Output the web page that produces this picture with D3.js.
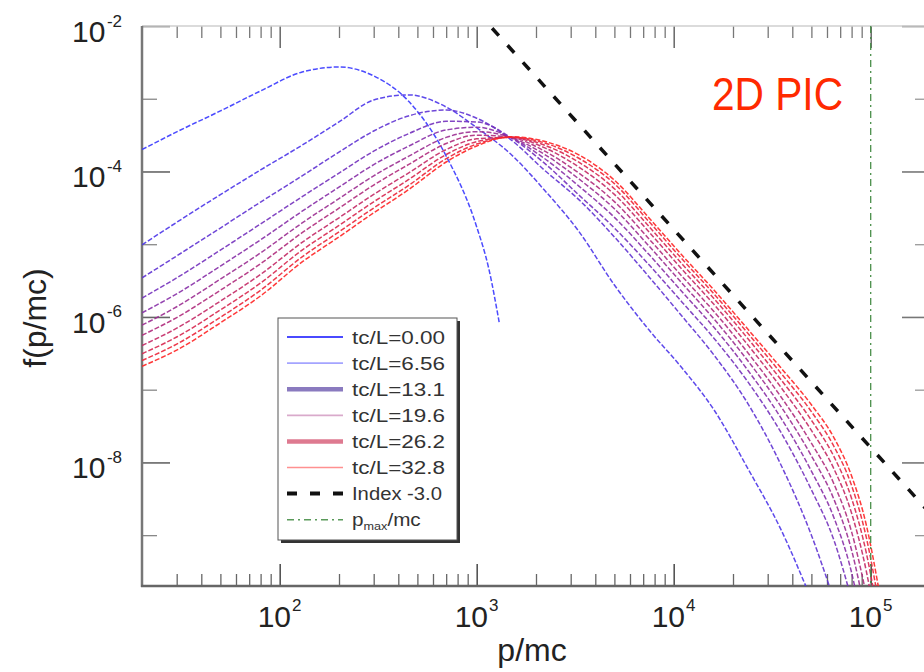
<!DOCTYPE html>
<html>
<head>
<meta charset="utf-8">
<script src="https://cdn.jsdelivr.net/npm/d3@7"></script>
<style>
  html, body { margin: 0; padding: 0; background: #fff; }
  svg { display: block; }
  text { font-family: "Liberation Sans", Arial, Helvetica, sans-serif; }
</style>
</head>
<body>
<svg id="chart" width="924" height="672"></svg>
<script>
// ---- data -------------------------------------------------------------
// momentum grid (p/mc) shared by the evolved spectra
const momentum = [20, 30, 50, 80, 130, 200, 300, 450, 700, 1000, 1500, 2200, 3300, 5000,
                  7500, 11000, 16000, 24000, 35000, 50000, 65000, 80000, 95000, 110000];

// initial spectrum (tc/L = 0) on its own grid
const momentumInitial = [20, 30, 50, 80, 130, 200, 300, 450, 700, 1000, 1150, 1300];
const fT00 = [2.0e-4, 3.5e-4, 6.8e-4, 1.28e-3, 2.33e-3, 2.73e-3, 2.06e-3, 9.3e-4, 1.63e-4, 1.73e-5, 4.7e-6, 8.5e-7];

// evolved spectra f(p/mc), one array per output time (null = below the plotted range)
const fT03 = [9.8e-6, 2.0e-5, 4.8e-5, 1.05e-4, 2.3e-4, 4.8e-4, 9.6e-4, 1.13e-3, 7.7e-4, 4.0e-4, 1.7e-4, 5.6e-5,
              1.5e-5, 2.75e-6, 6.6e-7, 2.0e-7, 5.3e-8, 7.9e-9, 1.2e-9, 1.3e-10, null, null, null, null];
const fT07 = [3.44e-6, 6.9e-6, 1.67e-5, 3.8e-5, 8.7e-5, 1.85e-4, 3.6e-4, 5.8e-4, 7.0e-4, 5.4e-4, 2.7e-4, 1.05e-4,
              4.1e-5, 1.26e-5, 3.55e-6, 1.03e-6, 3.0e-7, 6.2e-8, 9.3e-9, 1.0e-9, 1.3e-10, null, null, null];
const fT10 = [1.82e-6, 3.44e-6, 8.3e-6, 1.9e-5, 4.5e-5, 9.5e-5, 1.9e-4, 3.3e-4, 4.9e-4, 4.8e-4, 2.9e-4, 1.31e-4,
              4.75e-5, 1.67e-5, 5.2e-6, 1.61e-6, 5.1e-7, 1.24e-7, 2.6e-8, 4.2e-9, 8.6e-10, 1.3e-10, null, null];
const fT13 = [1.14e-6, 2.08e-6, 5.0e-6, 1.15e-5, 2.84e-5, 6.1e-5, 1.24e-4, 2.22e-4, 3.72e-4, 4.06e-4, 2.9e-4, 1.52e-4,
              6.3e-5, 2.34e-5, 7.2e-6, 2.23e-6, 7.2e-7, 1.79e-7, 4.1e-8, 7.6e-9, 1.75e-9, 3.05e-10, 3.0e-11, null];
const fT16 = [7.7e-7, 1.38e-6, 3.31e-6, 7.6e-6, 1.96e-5, 4.24e-5, 8.7e-5, 1.61e-4, 2.94e-4, 3.53e-4, 2.92e-4, 1.73e-4,
              7.9e-5, 3.07e-5, 9.4e-6, 2.92e-6, 9.4e-7, 2.42e-7, 5.9e-8, 1.23e-8, 3.13e-9, 6.2e-10, 7.3e-11, null];
const fT20 = [5.6e-7, 9.8e-7, 2.33e-6, 5.4e-6, 1.44e-5, 3.13e-5, 6.5e-5, 1.24e-4, 2.42e-4, 3.16e-4, 2.94e-4, 1.92e-4,
              9.5e-5, 3.85e-5, 1.18e-5, 3.65e-6, 1.19e-6, 3.12e-7, 8.0e-8, 1.84e-8, 5.1e-9, 1.11e-9, 1.52e-10, null];
const fT23 = [4.05e-7, 7.0e-7, 1.65e-6, 3.85e-6, 1.06e-5, 2.31e-5, 4.84e-5, 9.5e-5, 2.0e-4, 2.81e-4, 2.95e-4, 2.13e-4,
              1.15e-4, 4.84e-5, 1.47e-5, 4.55e-6, 1.49e-6, 4.0e-7, 1.08e-7, 2.75e-8, 8.2e-9, 2.0e-9, 3.2e-10, 3.5e-11];
const fT26 = [3.12e-7, 5.3e-7, 1.25e-6, 2.93e-6, 8.3e-6, 1.81e-5, 3.83e-5, 7.7e-5, 1.71e-4, 2.57e-4, 2.95e-4, 2.31e-4,
              1.34e-4, 5.8e-5, 1.75e-5, 5.4e-6, 1.79e-6, 4.9e-7, 1.38e-7, 3.8e-8, 1.21e-8, 3.2e-9, 5.7e-10, 6.7e-11];
const fT30 = [2.52e-7, 4.23e-7, 9.9e-7, 2.33e-6, 6.7e-6, 1.48e-5, 3.15e-5, 6.4e-5, 1.5e-4, 2.38e-4, 2.95e-4, 2.48e-4,
              1.52e-4, 6.8e-5, 2.04e-5, 6.3e-6, 2.08e-6, 5.8e-7, 1.69e-7, 5.0e-8, 1.67e-8, 4.8e-9, 9.3e-10, 1.15e-10];
const fT33 = [2.1e-7, 3.5e-7, 8.3e-7, 1.95e-6, 5.7e-6, 1.26e-5, 2.7e-5, 5.6e-5, 1.35e-4, 2.24e-4, 3.0e-4, 2.6e-4,
              1.69e-4, 7.6e-5, 2.3e-5, 7.1e-6, 2.35e-6, 6.6e-7, 2.0e-7, 6.2e-8, 2.2e-8, 6.5e-9, 1.38e-9, 1.8e-10];

// output times tc/L
const times = [0, 3.28, 6.56, 9.84, 13.1, 16.4, 19.6, 23.0, 26.2, 29.5, 32.8];

// power-law guide, index -3.0 (end points)
const indexP = [1000, 200000];
const indexF = [1.6e-2, 2.0e-9];

// maximum momentum marker
const pMax = 1e5;

// axis ticks and labels
const xLabelExponents = [2, 3, 4, 5];
const yLabelExponents = [-2, -4, -6, -8];
const yMinorExponents = [-3, -5, -7, -9];

const legendLabels = ["tc/L=0.00", "tc/L=6.56", "tc/L=13.1", "tc/L=19.6", "tc/L=26.2", "tc/L=32.8", "Index -3.0"];
const title = "2D PIC";

// ---- scales -----------------------------------------------------------
const svg = d3.select("#chart");
const x = d3.scaleLog().domain([20, 2e5]).range([142, 930]);
const y = d3.scaleLog().domain([2e-10, 1e-2]).range([586, 26]);

svg.append("rect").attr("width", 924).attr("height", 672).attr("fill", "#fff");

svg.append("defs").append("clipPath").attr("id", "plotClip")
  .append("rect").attr("x", 142).attr("y", 26).attr("width", 788).attr("height", 560);

// ---- ticks (drawn inward on all four sides) ----------------------------
const decadesX = xLabelExponents.map(e => Math.pow(10, e));
const minorX = [];
for (let e = 1; e <= 5; e++) {
  for (let m = 2; m <= 9; m++) {
    const v = m * Math.pow(10, e);
    if (v > 20 && v < 2e5) minorX.push(v);
  }
}
const majorY = yLabelExponents.map(e => Math.pow(10, e));
const minorY = yMinorExponents.map(e => Math.pow(10, e));

function tidy(g, color, width) {
  g.select(".domain").remove();
  g.selectAll(".tick text").remove();
  g.selectAll(".tick line").attr("stroke", color).attr("stroke-width", width);
}

svg.append("g").attr("transform", "translate(0,586)")
  .call(d3.axisBottom(x).tickValues(decadesX).tickSizeInner(-22).tickSizeOuter(0).tickFormat(() => ""))
  .call(tidy, "#555", 1.6);
svg.append("g").attr("transform", "translate(0,586)")
  .call(d3.axisBottom(x).tickValues(minorX).tickSizeInner(-12).tickSizeOuter(0).tickFormat(() => ""))
  .call(tidy, "#666", 1.3);
svg.append("g").attr("transform", "translate(0,26)")
  .call(d3.axisTop(x).tickValues(decadesX).tickSizeInner(-22).tickSizeOuter(0).tickFormat(() => ""))
  .call(tidy, "#666", 1.5);
svg.append("g").attr("transform", "translate(0,26)")
  .call(d3.axisTop(x).tickValues(minorX).tickSizeInner(-12).tickSizeOuter(0).tickFormat(() => ""))
  .call(tidy, "#777", 1.3);
svg.append("g").attr("transform", "translate(142,0)")
  .call(d3.axisLeft(y).tickValues(majorY).tickSizeInner(-28).tickSizeOuter(0).tickFormat(() => ""))
  .call(tidy, "#666", 1.6);
svg.append("g").attr("transform", "translate(142,0)")
  .call(d3.axisLeft(y).tickValues(minorY).tickSizeInner(-15).tickSizeOuter(0).tickFormat(() => ""))
  .call(tidy, "#888", 1.3);
svg.append("g").attr("transform", "translate(930,0)")
  .call(d3.axisRight(y).tickValues(majorY).tickSizeInner(-28).tickSizeOuter(0).tickFormat(() => ""))
  .call(tidy, "#777", 1.6);
svg.append("g").attr("transform", "translate(930,0)")
  .call(d3.axisRight(y).tickValues(minorY).tickSizeInner(-15).tickSizeOuter(0).tickFormat(() => ""))
  .call(tidy, "#999", 1.3);

// ---- frame ---------------------------------------------------------------
svg.append("line").attr("x1", 142).attr("x2", 930).attr("y1", 26).attr("y2", 26)
  .attr("stroke", "#cfcfcf").attr("stroke-width", 1.5);
svg.append("line").attr("x1", 142).attr("x2", 142).attr("y1", 26).attr("y2", 587)
  .attr("stroke", "#777").attr("stroke-width", 2.5);
svg.append("line").attr("x1", 141).attr("x2", 930).attr("y1", 586).attr("y2", 586)
  .attr("stroke", "#666").attr("stroke-width", 2.5);

// ---- tick labels -----------------------------------------------------------
const tickFont = 30, expFont = 17;
xLabelExponents.forEach(e => {
  const t = svg.append("text")
    .attr("x", x(Math.pow(10, e)) - 22).attr("y", 627)
    .attr("font-size", tickFont).attr("fill", "#222").text("10");
  t.append("tspan").attr("dx", 1).attr("dy", -16).attr("font-size", expFont).text(e);
});
yLabelExponents.forEach(e => {
  const t = svg.append("text")
    .attr("x", 72).attr("y", y(Math.pow(10, e)) + 16)
    .attr("font-size", tickFont).attr("fill", "#222").text("10");
  t.append("tspan").attr("dx", 1.5).attr("dy", -15.5).attr("font-size", expFont).text(e);
});

// axis titles
svg.append("text").attr("x", 532).attr("y", 661).attr("text-anchor", "middle")
  .attr("font-size", 32).attr("fill", "#222").text("p/mc");
svg.append("text").attr("transform", "translate(46,318) rotate(-90)")
  .attr("text-anchor", "middle").attr("font-size", 32).attr("fill", "#222").text("f(p/mc)");

// ---- plot content ------------------------------------------------------------
const plot = svg.append("g").attr("clip-path", "url(#plotClip)");

const line = d3.line()
  .defined(d => d[1] != null)
  .x(d => x(d[0]))
  .y(d => y(d[1]))
  .curve(d3.curveMonotoneX);

const spectra = [fT00, fT03, fT07, fT10, fT13, fT16, fT20, fT23, fT26, fT30, fT33];
const timeColor = d3.scaleLinear().domain([0, times[times.length - 1]])
  .range(["rgb(55,55,255)", "rgb(255,35,35)"]).interpolate(d3.interpolateRgb);

spectra.forEach((f, i) => {
  const grid = i === 0 ? momentumInitial : momentum;
  const pts = grid.map((p, k) => [p, f[k]]);
  plot.append("path").datum(pts)
    .attr("d", line)
    .attr("fill", "none")
    .attr("stroke", timeColor(times[i]))
    .attr("stroke-width", 1.5)
    .attr("stroke-dasharray", "5,2")
    .attr("stroke-opacity", 0.9);
});

// index -3 guide
plot.append("path").datum(indexP.map((p, k) => [p, indexF[k]]))
  .attr("d", d3.line().x(d => x(d[0])).y(d => y(d[1])))
  .attr("fill", "none").attr("stroke", "#111").attr("stroke-width", 3.5)
  .attr("stroke-dasharray", "10,13");

// p_max marker
plot.append("line")
  .attr("x1", x(pMax)).attr("x2", x(pMax)).attr("y1", y(1e-2)).attr("y2", y(2e-10))
  .attr("stroke", "#4a8f4a").attr("stroke-width", 1.3)
  .attr("stroke-dasharray", "7,4,2,4");

// ---- legend ------------------------------------------------------------------
const lg = svg.append("g");
lg.append("rect").attr("x", 281).attr("y", 321).attr("width", 179).attr("height", 222).attr("fill", "#333");
lg.append("rect").attr("x", 278).attr("y", 318).attr("width", 179).attr("height", 222)
  .attr("fill", "#fff").attr("stroke", "#555").attr("stroke-width", 1);

const legendStyles = [
  { color: "#4a4aff", width: 2.2 },
  { color: "#a4a4ff", width: 1.7 },
  { color: "#8a7abf", width: 4.5 },
  { color: "#d9aacb", width: 1.7 },
  { color: "#de7a90", width: 4.5 },
  { color: "#ff9090", width: 1.7 },
  { color: "#111", width: 4, dash: "10,13" }
];
const rowY = i => 337 + i * 26.1;
legendLabels.forEach((lab, i) => {
  const s = legendStyles[i];
  lg.append("line").attr("x1", 287).attr("x2", 343).attr("y1", rowY(i)).attr("y2", rowY(i))
    .attr("stroke", s.color).attr("stroke-width", s.width)
    .attr("stroke-dasharray", s.dash || null);
  lg.append("text").attr("x", 352).attr("y", rowY(i) + 6.5)
    .attr("font-size", 18).attr("fill", "#333")
    .attr("textLength", i < 6 ? 93 : 90).attr("lengthAdjust", "spacingAndGlyphs")
    .text(lab);
});
// p_max row
const pmRow = rowY(7);
lg.append("line").attr("x1", 287).attr("x2", 343).attr("y1", pmRow).attr("y2", pmRow)
  .attr("stroke", "#5a9a5a").attr("stroke-width", 1.5).attr("stroke-dasharray", "7,4,2,4");
const pm = lg.append("g").attr("transform", `translate(352,${pmRow + 6.5}) scale(1.15,1)`);
const pmText = pm.append("text").attr("font-size", 18).attr("fill", "#333").text("p");
pmText.append("tspan").attr("font-size", 11).attr("dy", 4).text("max");
pmText.append("tspan").attr("font-size", 18).attr("dy", -4).text("/mc");

// ---- panel tag ---------------------------------------------------------------
svg.append("text").attr("x", 712).attr("y", 110)
  .attr("font-family", "Lato, 'Open Sans', sans-serif")
  .attr("font-size", 46).attr("fill", "#ff2a00")
  .attr("textLength", 131).attr("lengthAdjust", "spacingAndGlyphs")
  .text(title);
</script>
</body>
</html>
